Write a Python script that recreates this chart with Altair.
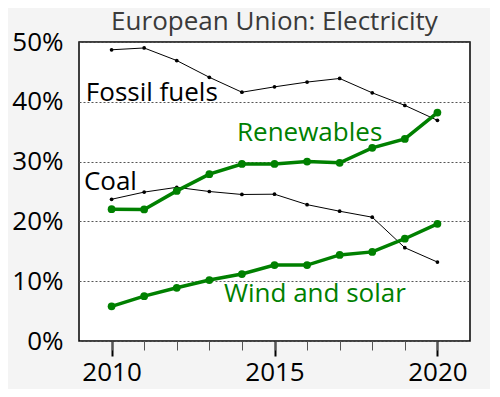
import altair as alt
import pandas as pd

years = list(range(2010, 2021))
fossil = [48.7, 49.0, 46.9, 44.1, 41.6, 42.5, 43.3, 43.9, 41.5, 39.4, 36.9]
coal = [23.7, 24.9, 25.7, 25.0, 24.5, 24.55, 22.8, 21.7, 20.7, 15.6, 13.2]
renew = [22.05, 22.0, 25.1, 27.9, 29.6, 29.6, 30.0, 29.8, 32.3, 33.8, 38.2]
windsolar = [5.8, 7.5, 8.9, 10.2, 11.2, 12.7, 12.7, 14.4, 14.9, 17.1, 19.6]

label_text = ["Fossil fuels", "Coal", "Renewables", "Wind and solar"]
label_year = [2009.21, 2009.15, 2013.85, 2013.45]
label_value = [40.2, 25.2, 33.5, 6.45]
label_color = ["black", "black", "green", "green"]

thin = pd.DataFrame({
    "year": years * 2,
    "value": fossil + coal,
    "series": ["Fossil fuels"] * 11 + ["Coal"] * 11,
})
thick = pd.DataFrame({
    "year": years * 2,
    "value": renew + windsolar,
    "series": ["Renewables"] * 11 + ["Wind and solar"] * 11,
})
labels = pd.DataFrame({"text": label_text, "year": label_year,
                       "value": label_value, "color": label_color})

FONT = "Open Sans"
xscale = alt.Scale(domain=[2009, 2021], nice=False, zero=False)
yscale = alt.Scale(domain=[0, 50], nice=False)
yaxis = alt.Axis(values=[0, 10, 20, 30, 40, 50], labelExpr="datum.value + '%'",
                 ticks=False, domain=False, grid=True, gridDash=[2, 2],
                 gridColor="#555555", gridWidth=1, labelFontSize=26,
                 labelFont=FONT, labelColor="black", labelPadding=16,
                 title=None)
major_axis = alt.Axis(values=[2010, 2015, 2020], format="d", orient="bottom",
                      tickSize=15, tickWidth=2, tickColor="black",
                      labelFontSize=26, labelFont=FONT, labelColor="black",
                      labelPadding=3, domain=False, grid=False, title=None)
minor_axis = alt.Axis(values=years, orient="bottom", tickSize=9, tickWidth=1,
                      tickColor="#555555", labels=False, domain=False,
                      grid=False, title=None)

thin_line = alt.Chart(thin).mark_line(
    color="black", strokeWidth=1,
    point=alt.OverlayMarkDef(color="black", size=14, filled=True, opacity=1)
).encode(
    x=alt.X("year:Q", scale=xscale, axis=major_axis),
    y=alt.Y("value:Q", scale=yscale, axis=yaxis),
    detail="series:N",
)

thick_line = alt.Chart(thick).mark_line(
    color="green", strokeWidth=3.5,
    point=alt.OverlayMarkDef(color="green", size=60, filled=True, opacity=1)
).encode(
    x=alt.X("year:Q", scale=xscale, axis=minor_axis),
    y=alt.Y("value:Q", scale=yscale, axis=yaxis),
    detail="series:N",
)

text = alt.Chart(labels).mark_text(
    align="left", baseline="alphabetic", font=FONT, fontSize=26
).encode(
    x=alt.X("year:Q", scale=xscale, axis=None),
    y=alt.Y("value:Q", scale=yscale, axis=yaxis),
    text="text:N",
    color=alt.Color("color:N", scale=None),
)

chart = alt.layer(thin_line, thick_line, text).resolve_axis(
    x="independent"
).properties(
    width=391, height=299,
    title=alt.TitleParams("European Union: Electricity", font=FONT,
                          fontSize=26, fontWeight="normal", color="#3a3a3a",
                          anchor="middle", offset=-6, frame="group"),
    autosize=alt.AutoSizeParams(type="none"),
    padding={"left": 71, "top": 34, "right": 20, "bottom": 48},
    background="#f4f4f4",
).configure_view(
    fill="white", stroke="black", strokeWidth=1.5
)

chart.save("out.html", embed_options={"renderer": "svg", "actions": False})
